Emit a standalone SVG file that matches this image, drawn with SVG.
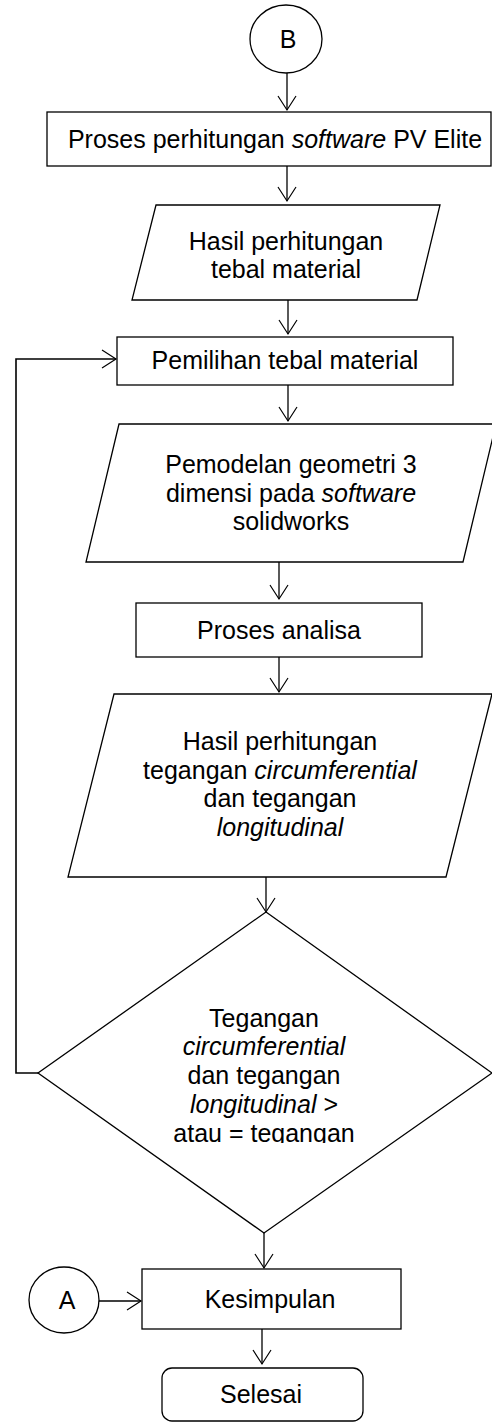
<svg xmlns="http://www.w3.org/2000/svg" width="492" height="1422" viewBox="0 0 492 1422">
<style>
.s{fill:#fff;stroke:#000;stroke-width:1.3}
.t{font-family:"Liberation Sans",Arial,sans-serif;font-size:25px;fill:#000;text-anchor:middle}
.c{fill:none;stroke:#000;stroke-width:1.3}
</style>
<defs>
<marker id="ah" markerUnits="userSpaceOnUse" markerWidth="18" markerHeight="22" viewBox="-16 -11 18 22" refX="0" refY="0" orient="auto">
<path d="M-14,-9 L0,0 L-14,9" fill="none" stroke="#000" stroke-width="1.2"/>
</marker>
<clipPath id="dclip"><rect x="0" y="900" width="492" height="243"/></clipPath>
</defs>
<rect width="492" height="1422" fill="#fff"/>
<g id="connectors">
<line class="c" x1="287" y1="73" x2="287" y2="110" marker-end="url(#ah)"/>
<line class="c" x1="287" y1="166" x2="287" y2="201" marker-end="url(#ah)"/>
<line class="c" x1="288" y1="300" x2="288" y2="334" marker-end="url(#ah)"/>
<line class="c" x1="288" y1="385" x2="288" y2="421" marker-end="url(#ah)"/>
<line class="c" x1="279" y1="562" x2="279" y2="599" marker-end="url(#ah)"/>
<line class="c" x1="279" y1="657" x2="279" y2="692" marker-end="url(#ah)"/>
<line class="c" x1="266" y1="877" x2="266" y2="912" marker-end="url(#ah)"/>
<polyline class="c" points="38,1073 16,1073 16,359 116,359" marker-end="url(#ah)" style="stroke-width:1.6"/>
<line class="c" x1="264" y1="1233" x2="264" y2="1268" marker-end="url(#ah)"/>
<line class="c" x1="99" y1="1301" x2="141" y2="1301" marker-end="url(#ah)"/>
<line class="c" x1="262" y1="1329" x2="262" y2="1364" marker-end="url(#ah)"/>
</g>
<g id="node-B">
<ellipse class="s" cx="286" cy="39" rx="36" ry="34"/>
<text class="t" x="288" y="48">B</text>
</g>
<g id="node-proses-pv">
<rect class="s" x="47" y="112" width="444" height="54"/>
<text class="t" x="275" y="148">Proses perhitungan <tspan font-style="italic">software</tspan> PV Elite</text>
</g>
<g id="node-hasil-tebal">
<polygon class="s" points="156,205 440,205 417,300 132,300"/>
<text class="t" x="286" y="250">Hasil perhitungan</text>
<text class="t" x="286" y="278">tebal material</text>
</g>
<g id="node-pemilihan">
<rect class="s" x="117" y="337" width="336" height="48"/>
<text class="t" x="285" y="369">Pemilihan tebal material</text>
</g>
<g id="node-pemodelan">
<polygon class="s" points="119,424 496,424 463,562 86,562"/>
<text class="t" x="291" y="473">Pemodelan geometri 3</text>
<text class="t" x="291" y="502">dimensi pada <tspan font-style="italic">software</tspan></text>
<text class="t" x="291" y="530">solidworks</text>
</g>
<g id="node-analisa">
<rect class="s" x="136" y="603" width="286" height="54"/>
<text class="t" x="279" y="639">Proses analisa</text>
</g>
<g id="node-hasil-tegangan">
<polygon class="s" points="114,694 492,694 446,877 68,877"/>
<text class="t" x="280" y="750">Hasil perhitungan</text>
<text class="t" x="280" y="779">tegangan <tspan font-style="italic">circumferential</tspan></text>
<text class="t" x="280" y="807">dan tegangan</text>
<text class="t" x="280" y="836" font-style="italic">longitudinal</text>
</g>
<g id="node-decision">
<polygon class="s" points="266,912 492,1073 264,1233 38,1073"/>
<g clip-path="url(#dclip)">
<text class="t" x="264" y="1027">Tegangan</text>
<text class="t" x="264" y="1055" font-style="italic">circumferential</text>
<text class="t" x="264" y="1084">dan tegangan</text>
<text class="t" x="264" y="1113"><tspan font-style="italic">longitudinal</tspan> &gt;</text>
<text class="t" x="264" y="1142">atau = tegangan</text>
</g>
</g>
<g id="node-A">
<ellipse class="s" cx="64" cy="1300" rx="35" ry="33"/>
<text class="t" x="67" y="1309">A</text>
</g>
<g id="node-kesimpulan">
<rect class="s" x="142" y="1269" width="259" height="60"/>
<text class="t" x="270" y="1308">Kesimpulan</text>
</g>
<g id="node-selesai">
<rect class="s" x="162" y="1368" width="201" height="53" rx="10" ry="10"/>
<text class="t" x="261" y="1403">Selesai</text>
</g>
</svg>
